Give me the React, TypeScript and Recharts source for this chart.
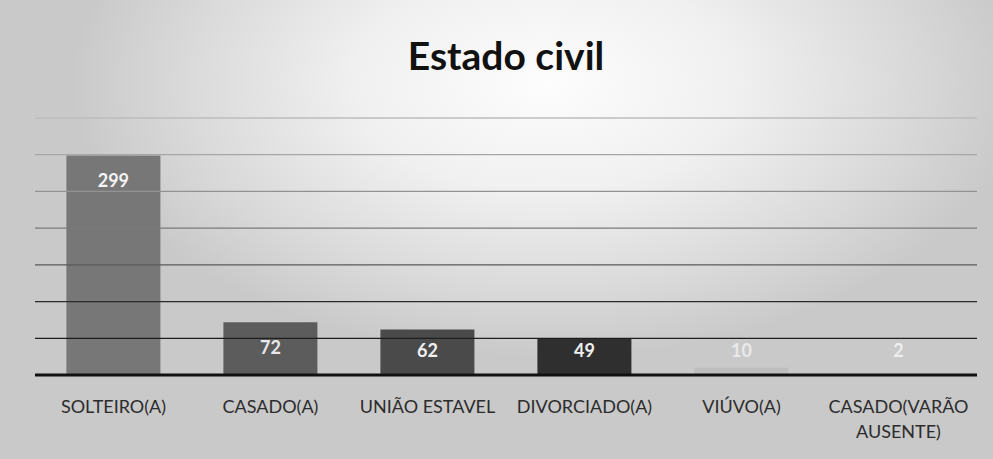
import React from 'react';
import { BarChart, Bar, XAxis, YAxis, Cell, LabelList, ReferenceLine } from 'recharts';

const categories = ['SOLTEIRO(A)', 'CASADO(A)', 'UNIÃO ESTAVEL', 'DIVORCIADO(A)', 'VIÚVO(A)', 'CASADO(VARÃO AUSENTE)'];
const counts = [299, 72, 62, 49, 10, 2];
const barColors = ['#777777', '#5c5c5c', '#4a4a4a', '#2f2f2f', '#bdbdbd', '#c4c4c4'];
const labelColors = ['#f4f4f4', '#e8e8e8', '#f0f0f0', '#f0f0f0', '#e9e9e9', '#eeeeee'];
const gridValues = [50, 100, 150, 200, 250, 300, 350];
const gridColors = ['#1e1e1e', '#2a2a2a', '#5a5a5a', '#7a7a7a', '#929292', '#a6a6a6', '#bcbcbc'];

const chartData = categories.map((name, i) => ({ name, value: counts[i] }));

const FONT = 'Lato, "Open Sans", sans-serif';

const BarLabel = (props: any) => {
  const { x, y, width, height, value, index } = props;
  const cy = Math.min(y + 25, y + height - 25);
  return (
    <text
      x={x + width / 2}
      y={cy}
      textAnchor="middle"
      dominantBaseline="central"
      fill={labelColors[index] ?? '#fff'}
      fontFamily={FONT}
      fontWeight={700}
      fontSize={18}
    >
      {value}
    </text>
  );
};

const CategoryTick = (props: any) => {
  const { x, y, payload } = props;
  const text: string = payload.value;
  const lines = text === 'CASADO(VARÃO AUSENTE)' ? ['CASADO(VARÃO', 'AUSENTE)'] : [text];
  return (
    <text x={x} y={y + 30} textAnchor="middle" fill="#2c2c2c" fontFamily={FONT} fontSize={18}>
      {lines.map((l, i) => (
        <tspan key={i} x={x} dy={i === 0 ? 0 : 25}>
          {l}
        </tspan>
      ))}
    </text>
  );
};

export default function App() {
  return (
    <div
      style={{
        position: 'fixed',
        left: 0,
        top: 0,
        width: 993,
        height: 459,
        background:
          'radial-gradient(ellipse 48% 60% at 55% 18%, #fdfdfd 0%, #f0f0f0 40%, #dadada 75%, #c9c9c9 100%), #c9c9c9',
      }}
    >
      <div
        style={{
          position: 'absolute',
          left: 0,
          width: 1012,
          top: 32,
          textAlign: 'center',
          fontFamily: FONT,
          fontWeight: 700,
          fontSize: 39,
          color: '#111',
        }}
      >
        Estado civil
      </div>
      <BarChart
        width={993}
        height={459}
        data={chartData}
        margin={{ top: 118, right: 16, left: 35, bottom: 0 }}
        barCategoryGap="20%"
      >
        <YAxis hide domain={[0, 350]} ticks={gridValues} />
        {gridValues.map((v, i) => (
          <ReferenceLine key={v} y={v} stroke={gridColors[i]} strokeWidth={1.3} />
        ))}
        <XAxis
          dataKey="name"
          height={84}
          interval={0}
          tickLine={false}
          axisLine={{ stroke: '#111', strokeWidth: 3 }}
          tick={<CategoryTick />}
        />
        <Bar dataKey="value" isAnimationActive={false}>
          {chartData.map((d, i) => (
            <Cell key={d.name} fill={barColors[i]} />
          ))}
          <LabelList dataKey="value" content={<BarLabel />} />
        </Bar>
      </BarChart>
    </div>
  );
}
